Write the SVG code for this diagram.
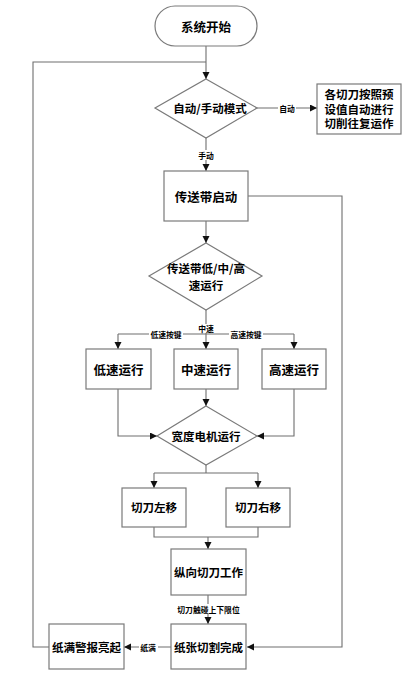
<svg xmlns="http://www.w3.org/2000/svg" width="417" height="680" viewBox="0 0 417 680">
<style>
.box{fill:#fff;stroke:#7a7a7a;stroke-width:1.2}
.ln{fill:none;stroke:#6e6e6e;stroke-width:1.1}
.t{font-family:"Noto Sans CJK SC","Liberation Sans",sans-serif;font-weight:bold;font-size:11.5px;fill:#000;text-anchor:middle;dominant-baseline:central}
.tl{font-size:12.5px}
.s{font-family:"Noto Sans CJK SC","Liberation Sans",sans-serif;font-weight:bold;font-size:7.8px;fill:#000;text-anchor:middle;dominant-baseline:central}
.bg{fill:#fff}
</style>
<defs>
<marker id="a" markerUnits="userSpaceOnUse" markerWidth="8" markerHeight="8" refX="7" refY="3.5" orient="auto">
<path d="M0,0 L7,3.5 L0,7 z" fill="#111"/>
</marker>
</defs>
<rect width="417" height="680" fill="#fff"/>
<g id="connectors">
<path class="ln" d="M206,46 V79" marker-end="url(#a)"/>
<path class="ln" d="M49,647 H33 V62 H206"/>
<path class="ln" d="M257,108 H317" marker-end="url(#a)"/>
<path class="ln" d="M206,138 V171" marker-end="url(#a)"/>
<path class="ln" d="M206,221 V243" marker-end="url(#a)"/>
<path class="ln" d="M248,196 H342 V647 H247" marker-end="url(#a)"/>
<path class="ln" d="M206,310 V349" marker-end="url(#a)"/>
<path class="ln" d="M118,334 H294"/>
<path class="ln" d="M118,334 V349" marker-end="url(#a)"/>
<path class="ln" d="M294,334 V349" marker-end="url(#a)"/>
<path class="ln" d="M206,389 V406" marker-end="url(#a)"/>
<path class="ln" d="M118,389 V436 H157" marker-end="url(#a)"/>
<path class="ln" d="M294,389 V436 H257" marker-end="url(#a)"/>
<path class="ln" d="M206,465 V473"/>
<path class="ln" d="M154,473 H258"/>
<path class="ln" d="M154,473 V488" marker-end="url(#a)"/>
<path class="ln" d="M258,473 V488" marker-end="url(#a)"/>
<path class="ln" d="M154,527 V537 H258 V527"/>
<path class="ln" d="M208,537 V549" marker-end="url(#a)"/>
<path class="ln" d="M208,595 V624" marker-end="url(#a)"/>
<path class="ln" d="M171,647 H124" marker-end="url(#a)"/>
<rect class="bg" x="278" y="103" width="18" height="10"/>
<text class="s" x="287" y="108">自动</text>
<rect class="bg" x="197" y="150" width="18" height="10"/>
<text class="s" x="206" y="155">手动</text>
<rect class="bg" x="149" y="329" width="34" height="10"/>
<text class="s" x="166" y="334">低速按键</text>
<rect class="bg" x="198" y="324" width="16" height="9"/>
<text class="s" x="206" y="328.5">中速</text>
<rect class="bg" x="229" y="329" width="34" height="10"/>
<text class="s" x="246" y="334">高速按键</text>
<rect class="bg" x="174" y="604" width="69" height="10"/>
<text class="s" x="208.5" y="609">切刀触碰上下限位</text>
<rect class="bg" x="139" y="642" width="19" height="10"/>
<text class="s" x="148" y="647">纸满</text>
</g>
<g id="start">
<rect class="box" x="155" y="6" width="102" height="40" rx="20" ry="20"/>
<text class="t tl" x="206" y="26">系统开始</text>
</g>
<g id="mode">
<polygon class="box" points="206,79 257,108 206,138 155,108"/>
<text class="t" x="210" y="108">自动/手动模式</text>
</g>
<g id="auto">
<rect class="box" x="317" y="84" width="84" height="50"/>
<text class="t" x="359" y="94">各切刀按照预</text>
<text class="t" x="359" y="108.5">设值自动进行</text>
<text class="t" x="359" y="123">切削往复运作</text>
</g>
<g id="conveyor">
<rect class="box" x="164" y="171" width="84" height="50"/>
<text class="t tl" x="206" y="196">传送带启动</text>
</g>
<g id="speed">
<polygon class="box" points="206,243 262,276 206,310 149,276"/>
<text class="t" x="206" y="268">传送带低/中/高</text>
<text class="t" x="206" y="285">速运行</text>
</g>
<g id="low">
<rect class="box" x="86" y="349" width="65" height="40"/>
<text class="t tl" x="118.5" y="369">低速运行</text>
</g>
<g id="mid">
<rect class="box" x="174" y="349" width="64" height="40"/>
<text class="t tl" x="206" y="369">中速运行</text>
</g>
<g id="high">
<rect class="box" x="262" y="349" width="64" height="40"/>
<text class="t tl" x="294" y="369">高速运行</text>
</g>
<g id="width">
<polygon class="box" points="206,406 257,436 206,465 157,436"/>
<text class="t" x="206" y="436">宽度电机运行</text>
</g>
<g id="left">
<rect class="box" x="122" y="488" width="64" height="39"/>
<text class="t" x="154" y="507">切刀左移</text>
</g>
<g id="right">
<rect class="box" x="226" y="488" width="64" height="39"/>
<text class="t" x="258" y="507">切刀右移</text>
</g>
<g id="vertical">
<rect class="box" x="171" y="549" width="75" height="46"/>
<text class="t" x="208.5" y="572">纵向切刀工作</text>
</g>
<g id="done">
<rect class="box" x="171" y="624" width="75" height="45"/>
<text class="t" x="208.5" y="647">纸张切割完成</text>
</g>
<g id="alarm">
<rect class="box" x="49" y="624" width="75" height="45"/>
<text class="t" x="86.5" y="647">纸满警报亮起</text>
</g>
</svg>
